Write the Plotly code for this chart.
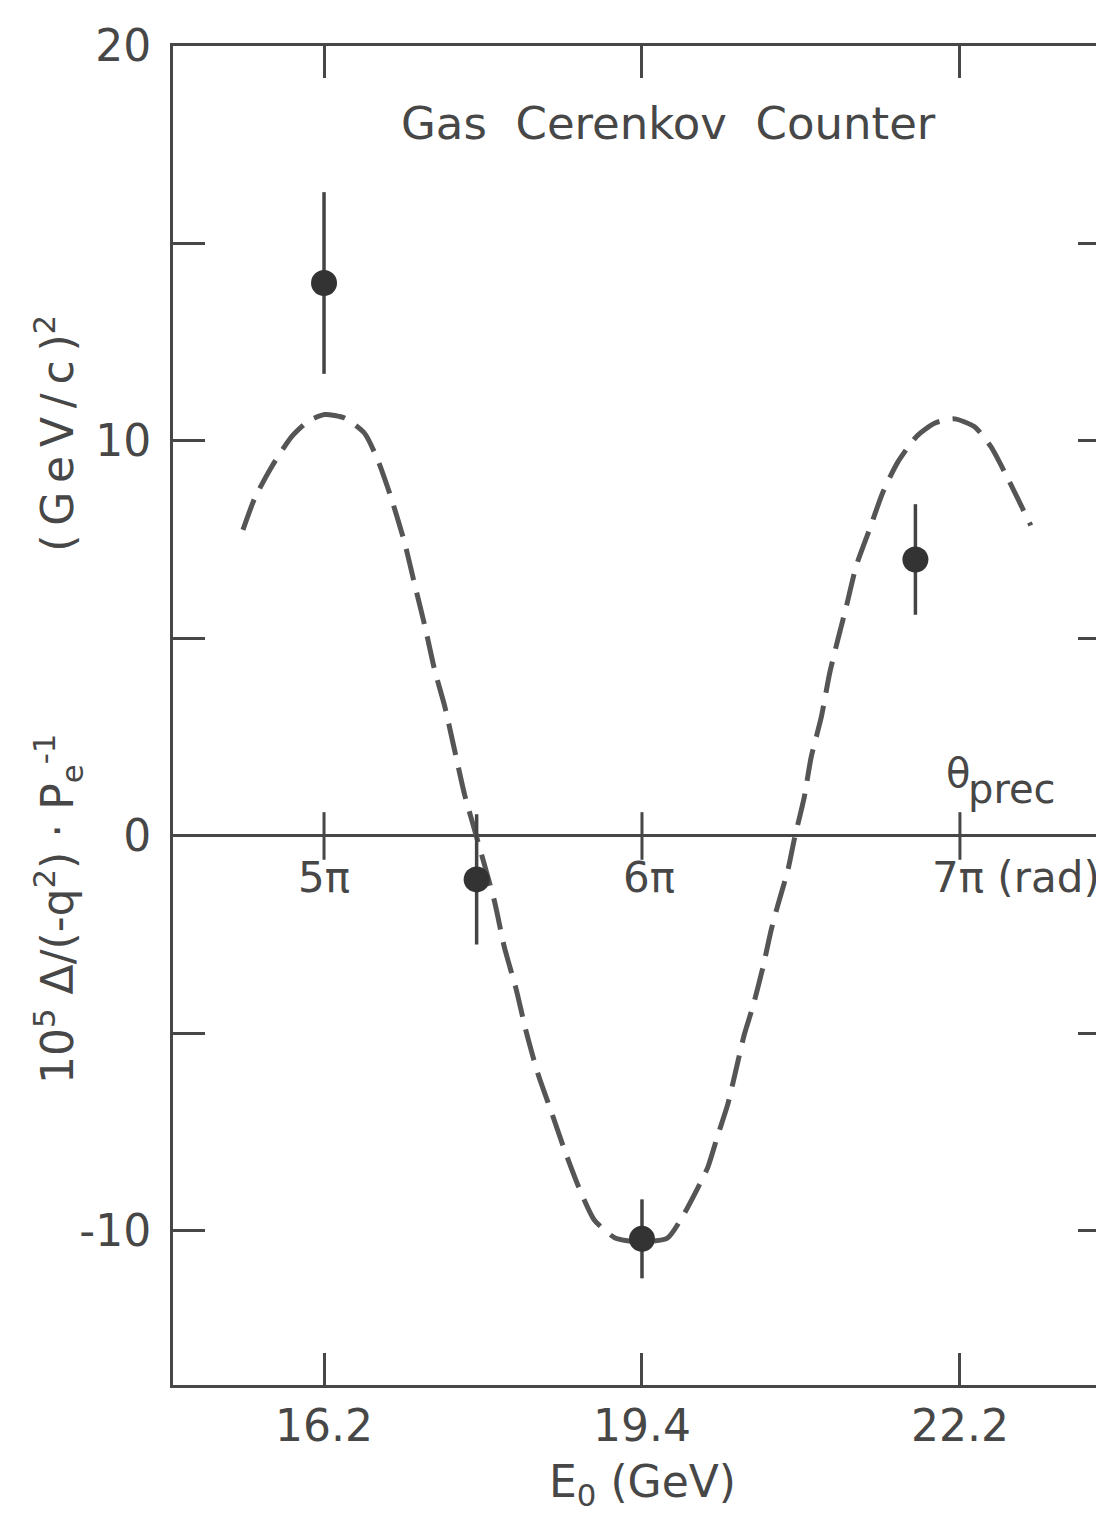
import plotly.graph_objects as go

# ---------------- data ----------------
# x positions are in units of pi (precession angle theta_prec / pi);
# the bottom axis labels give the corresponding beam energy E0 (GeV)
theta_ticks = [5, 6, 7]
energy_labels = ["16.2", "19.4", "22.2"]
theta_labels = ["5\u03c0", "6\u03c0", "7\u03c0 (rad)"]

y_ticks = [20, 15, 10, 5, 0, -5, -10]
y_labels = ["20", "", "10", "", "0", "", "-10"]

# measured points
pt_theta = [5.00, 5.48, 6.00, 6.86]
pt_value = [14.0, -1.1, -10.2, 7.0]
pt_error = [2.3, 1.65, 1.0, 1.4]

# dashed prediction curve
curve_theta = [4.745, 4.782, 4.834, 4.897, 4.950, 5.002, 5.065, 5.128, 5.170, 5.212,
               5.254, 5.285, 5.317, 5.348, 5.380, 5.411, 5.442, 5.479, 5.536, 5.567,
               5.604, 5.635, 5.672, 5.714, 5.756, 5.798, 5.850, 5.914, 5.985, 6.080,
               6.130, 6.175, 6.207, 6.238, 6.270, 6.296, 6.322, 6.349, 6.380, 6.407,
               6.428, 6.459, 6.480, 6.510, 6.532, 6.564, 6.590, 6.616, 6.643, 6.674,
               6.716, 6.758, 6.805, 6.863, 6.920, 6.983, 7.046, 7.098, 7.140, 7.182,
               7.223]
curve_value = [7.75, 8.55, 9.33, 10.10, 10.50, 10.67, 10.58, 10.19, 9.50, 8.54,
               7.41, 6.37, 5.32, 4.20, 3.27, 2.16, 1.05, 0.00, -1.65, -2.81,
               -3.87, -4.93, -6.00, -6.96, -7.94, -8.83, -9.72, -10.17, -10.28, -10.18,
               -9.60, -8.92, -8.39, -7.59, -6.79, -5.91, -5.02, -4.31, -3.34, -2.36,
               -1.73, -0.86, -0.05, 0.97, 1.99, 3.01, 4.11, 4.97, 5.82, 6.84,
               7.77, 8.71, 9.47, 10.11, 10.45, 10.56, 10.36, 9.85, 9.22, 8.54,
               7.86]

# ---------------- layout geometry ----------------
W, H = 1104, 1525
L, R, T, B = 165, 2, 38, 148
INK = "#474747"
FONT = "DejaVu Sans"
TS = "\u2009"   # thin space used for letter spacing
NB = "\u00a0"


def px(xp, yp):
    """pixel -> paper coordinates"""
    return (xp - L) / (W - L - R), 1 - (yp - T) / (H - T - B)


def spaced(s):
    return TS.join(list(s))


fig = go.Figure()

fig.add_trace(go.Scatter(
    x=curve_theta, y=curve_value, mode="lines",
    line=dict(color="#555555", width=5, dash="32px,13px", shape="spline", smoothing=0.6),
    showlegend=False, hoverinfo="skip"))

# ticks crossing the zero line (theta_prec scale)
fig.add_trace(go.Scatter(
    x=theta_ticks, y=[0] * len(theta_ticks), mode="markers",
    marker=dict(symbol="line-ns", size=34, line=dict(width=3, color=INK)),
    showlegend=False, hoverinfo="skip"))

fig.add_trace(go.Scatter(
    x=pt_theta, y=pt_value, mode="markers",
    marker=dict(size=26, color="#333333"),
    error_y=dict(type="data", array=pt_error, visible=True,
                 thickness=3.5, width=0, color="#444444"),
    showlegend=False))

axis_common = dict(
    showline=True, linewidth=3, linecolor=INK, mirror="ticks",
    ticks="inside", ticklen=32, tickwidth=3, tickcolor=INK,
    showgrid=False, automargin=False,
    tickfont=dict(family=FONT, size=44, color=INK),
)

fig.update_xaxes(range=[4.525, 7.472], tickvals=theta_ticks, ticktext=energy_labels,
                 zeroline=False, ticklabelstandoff=0, **axis_common)
fig.update_yaxes(range=[-13.9, 20.0], tickvals=y_ticks, ticktext=y_labels,
                 zeroline=True, zerolinecolor=INK, zerolinewidth=2.5,
                 ticklabelstandoff=10, **axis_common)

ann = []
# theta labels below the zero line
shifts = [0, 7, -30]
anchors = ["center", "center", "left"]
for th, lab, sh, an in zip(theta_ticks, theta_labels, shifts, anchors):
    ann.append(dict(x=th, y=0, xref="x", yref="y", text=lab, showarrow=False,
                    xanchor=an, yanchor="middle", xshift=sh, yshift=-42,
                    font=dict(family=FONT, size=42, color=INK)))

x0, y0 = px(660, 116)
ann.append(dict(x=x0, y=y0, xref="paper", yref="paper",
                text=(NB * 2).join(["Gas", "Cerenkov", "Counter"]),
                showarrow=False, xanchor="center", yanchor="middle",
                font=dict(family=FONT, size=45, color=INK)))

x0, y0 = px(950, 765)
ann.append(dict(x=x0, y=y0, xref="paper", yref="paper", text="\u03b8",
                showarrow=False, xanchor="center", yanchor="middle",
                font=dict(family=FONT, size=40, color=INK)))
x0, y0 = px(958, 781)
ann.append(dict(x=x0, y=y0, xref="paper", yref="paper", text="prec",
                showarrow=False, xanchor="left", yanchor="middle",
                font=dict(family=FONT, size=40, color=INK)))

ytitle = ("10<sup>5</sup> \u0394/(-q<sup>2</sup>) \u00b7 P<sub>e</sub><sup>-1</sup>"
          + NB * 13 + spaced("(GeV/c)") + "<sup>2</sup>")
x0, y0 = px(50, 692)
ann.append(dict(x=x0, y=y0, xref="paper", yref="paper", text=ytitle,
                textangle=-90, showarrow=False, xanchor="center", yanchor="middle",
                font=dict(family=FONT, size=44, color=INK)))

x0, y0 = px(634, 1476)
ann.append(dict(x=x0, y=y0, xref="paper", yref="paper", text="E<sub>0</sub> (GeV)",
                showarrow=False, xanchor="center", yanchor="middle",
                font=dict(family=FONT, size=44, color=INK)))

fig.update_layout(
    width=W, height=H,
    margin=dict(l=L, r=R, t=T, b=B, autoexpand=False),
    plot_bgcolor="white", paper_bgcolor="white",
    annotations=ann,
)

fig.write_html("out.html")
